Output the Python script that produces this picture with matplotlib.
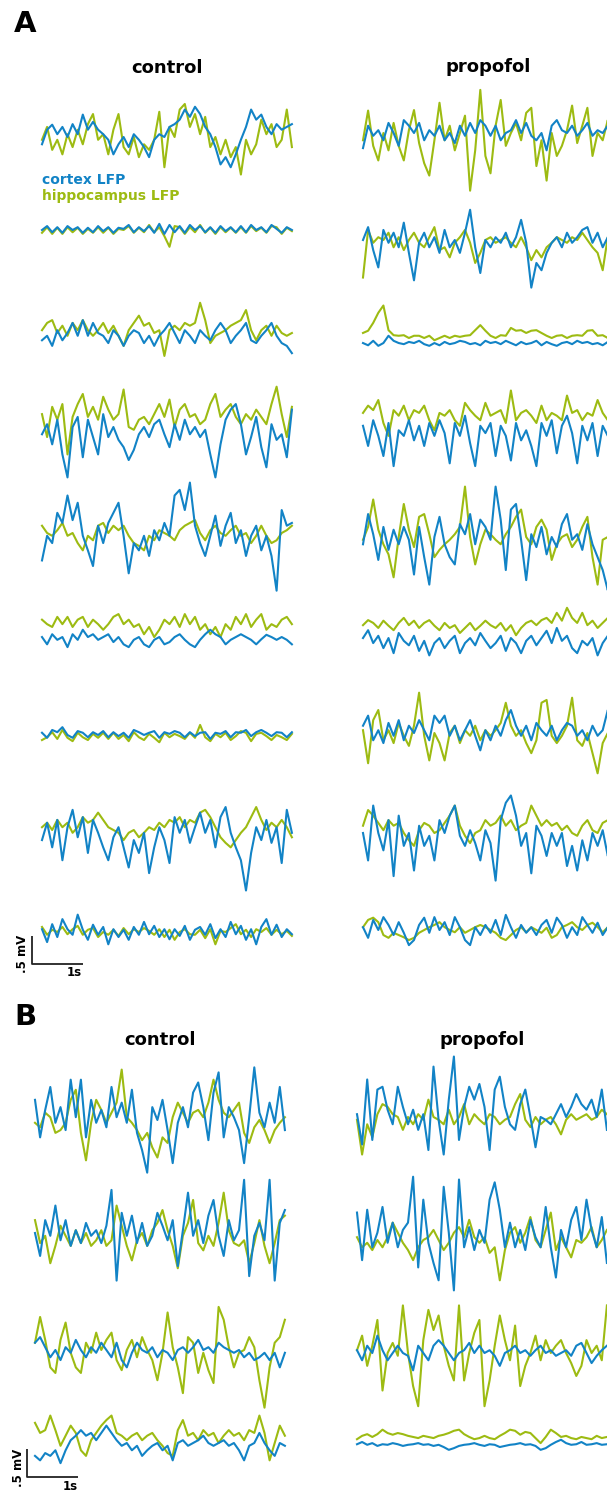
import numpy as np
import matplotlib
matplotlib.use("Agg")
import matplotlib.pyplot as plt

# ---------------- data (LFP traces, microvolts, sampled every 0.1 s) ----------------
DT = 0.1  # s
SCALE_V = 500   # uV scale bar
SCALE_T = 1.0   # s scale bar

# Panel A, control
A_ctrl_cortex_1 = [-130,130,220,50,180,0,230,50,400,130, 270,130,50,-50,-310,-130,0,-180,50,-50, -180,-360,-50,50,0,180,230,310,490,360, 540,410,180,50,-180,-490,-360,-540,-310,-50, 180,490,310,400,180,50,230,130,180,230]
A_ctrl_hippo_1 = [-50,180,-230,-50,-310,50,-180,130,-130,230, 410,-50,50,-310,130,410,-180,-310,0,-360, -130,-230,-50,450,-540,180,0,490,590,180, 410,50,360,-180,0,-310,-50,-360,-180,-670, -50,-310,-130,310,50,230,-180,-50,490,-180]
A_ctrl_cortex_2 = [0,70,-40,50,-50,70,0,50,-50,40, -40,70,-20,50,-50,40,20,90,-40,50, -20,70,-50,110,-70,90,-40,70,-50,90, 0,70,-40,50,-50,70,-20,50,-40,70, -40,90,0,50,-40,90,20,-50,50,0]
A_ctrl_hippo_2 = [-50,50,-70,40,-70,50,-40,40,-70,20, -50,50,-50,40,-70,20,0,70,-50,40, -40,90,-40,50,-110,-300,70,50,-70,50, -40,90,-50,40,-70,50,-40,40,-50,50, -50,70,-20,40,-50,70,50,-70,40,-20]
A_ctrl_cortex_3 = [-130,-50,-230,50,-130,0,180,-50,230,-50, 180,0,-50,-180,50,-50,-230,-50,50,0, -180,-50,-230,-50,50,180,0,-180,50,-50, -180,50,-50,-130,50,180,50,-180,-50,50, 180,-130,-180,-50,50,180,-50,-180,-230,-360]
A_ctrl_hippo_3 = [50,180,230,0,130,-50,180,50,230,50, -50,50,180,0,130,-50,-230,50,180,310, 130,180,0,50,-410,50,130,50,180,130, 180,540,230,-180,-50,0,50,130,180,230, 410,50,-130,50,130,-50,130,0,-50,0]
A_ctrl_cortex_4 = [-130,50,-310,130,-490,-900,0,180,-540,130, -180,-490,230,-180,0,-230,-360,-590,-410,-130, 0,-180,50,130,-130,-360,50,-230,130,-130, 0,-180,-50,-490,-900,-310,130,310,410,50, -490,-180,180,-360,-720,50,-230,-130,-540,310]
A_ctrl_hippo_4 = [230,-180,360,130,410,-490,180,410,590,180, 360,130,540,310,130,230,670,0,-50,130, 180,50,230,410,180,490,0,310,410,180, 230,50,130,410,590,180,310,410,180,50, 230,130,310,180,50,410,720,230,-180,360]
A_ctrl_cortex_5 = [-490,-50,-180,360,180,670,230,540,-50,-310, -590,130,-180,180,360,540,-50,-720,-180,-310, -50,-410,50,-130,180,-50,670,770,410,900, 130,-180,-410,-50,310,-230,130,360,-180,50, -410,-50,130,-310,-50,-410,-1030,410,130,180]
A_ctrl_hippo_5 = [130,0,-50,50,180,-50,0,-180,-310,-50, -130,130,180,0,130,50,130,-50,-180,-230, -310,-50,-130,50,0,-50,-130,50,130,180, 230,0,-130,50,130,0,-50,50,130,-50, 0,-180,-50,130,-50,-180,-130,0,50,130]
A_ctrl_cortex_6 = [-90,-220,-40,-140,-90,-270,-40,-140,40,-90, -40,-140,-90,-40,-180,-90,-220,-270,-140,-90, -220,-270,-140,-90,-220,-180,-90,-40,-140,-220, -270,-140,-40,40,-40,-90,-220,-140,-90,-40, -90,-140,-220,-130,-50,-90,-140,-90,-140,-220]
A_ctrl_hippo_6 = [220,140,90,270,140,270,90,220,270,90, 220,140,40,140,270,320,140,220,90,140, -40,90,-90,40,220,140,270,90,320,140, 270,40,140,-40,90,-90,140,40,270,140, 320,90,220,320,40,140,90,220,270,140]
A_ctrl_cortex_7 = [40,-50,90,50,140,0,-50,70,40,-40, 50,0,70,-40,50,-20,40,-50,90,50, 0,40,70,-50,50,20,70,40,-40,50, -20,40,50,-70,40,20,70,-40,50,40, 90,-20,50,90,40,-20,50,40,-40,50]
A_ctrl_hippo_7 = [-90,-40,50,-70,90,-50,-110,40,-40,-90, 20,-50,40,-70,40,-70,0,-110,50,-40, -90,20,-50,-130,40,-40,20,-20,-70,40, -50,180,-40,-110,20,-40,40,-90,-20,70, 40,-110,20,40,-20,-90,0,-40,-90,20]
A_ctrl_cortex_8 = [-180,130,-310,180,-540,50,360,-130,230,-410, 180,-50,-310,-540,-130,50,-310,-670,-180,-410, -50,-770,-310,50,-180,-590,230,-50,180,-230, 50,310,-50,180,-310,230,410,-50,-310,-540, -1080,-410,50,-180,180,-230,50,-590,360,-50]
A_ctrl_hippo_8 = [50,130,0,180,50,130,-50,50,230,130, 180,310,180,50,0,-50,-180,-50,0,-130, -50,50,0,130,50,180,130,230,50,180, 130,310,360,230,50,-130,-230,-310,-180,-50, 50,230,410,180,0,130,50,180,50,-130]
A_ctrl_cortex_9 = [50,-180,140,-90,230,50,-50,310,40,-140, 130,-50,90,-220,50,-90,40,-140,90,-50, 180,-40,110,-90,50,-130,50,-70,110,-140, 40,90,-50,140,-110,50,-90,180,-40,110, -140,50,-220,90,230,-50,130,-90,50,-40]
A_ctrl_hippo_9 = [90,-50,40,0,90,-40,50,110,-50,40, 70,-90,0,-50,40,-70,70,-40,50,0, 70,20,-50,50,-90,40,-140,0,50,-40, -50,40,-110,50,-220,20,0,70,140,-40, 40,-90,50,0,70,-50,40,-40,20,-70]

# Panel A, propofol
A_prop_cortex_1 = [-270,130,-50,50,-130,180,0,-230,230,130, 0,180,-130,50,-50,130,-130,0,-180,130, -50,180,0,230,130,-50,130,-130,0,50, 230,0,180,-50,-130,0,-310,130,230,50, 0,130,-50,50,180,-50,50,0,130,-50]
A_prop_hippo_1 = [-130,400,-230,-490,0,-310,180,-230,-490,50, 410,-180,-540,-760,-130,540,-130,130,-310,0, 310,-1030,-310,770,-410,-720,130,590,-230,0, 180,-130,360,450,-590,-130,-850,0,-410,-230, 50,490,-180,130,450,-410,0,-130,230,-810]
A_prop_cortex_2 = [0,230,-180,-490,180,-50,130,-130,310,-230, -720,-50,130,-130,50,-230,180,-130,0,-230, 130,540,-130,-590,0,-130,50,-50,130,-130, 50,360,-50,-850,-410,-540,-230,-50,50,-130, 130,-50,50,180,230,-50,130,-130,50,-50]
A_prop_hippo_2 = [-670,180,-50,50,0,130,-130,50,-180,0, 130,-50,-130,50,230,-180,-130,-310,-50,50, 180,-50,-410,-230,0,50,-50,0,50,-50, -130,50,-130,-360,-180,-310,-130,-50,50,0, -50,50,0,130,0,-130,-230,-540,50,180]
A_prop_cortex_3 = [-90,-130,-50,-140,-90,40,-50,-90,-110,-70, -90,-50,-110,-140,-90,-130,-70,-110,-90,-50, -70,-110,-90,-130,-50,-90,-70,-110,-50,-90, -130,-70,-110,-90,-50,-130,-70,-110,-140,-90, -70,-110,-50,-90,-70,-110,-90,-130,-70,-140]
A_prop_hippo_3 = [90,130,270,450,580,140,50,40,50,0, 40,40,0,40,-40,0,40,0,40,20, 40,50,140,230,130,40,0,50,40,180, 130,140,90,130,140,90,40,0,40,50, 0,40,50,40,130,140,40,50,0,40]
A_prop_cortex_4 = [-50,-410,50,-230,-590,0,-770,-130,-230,50, -310,-50,-410,0,-230,50,-180,-720,0,-230, 130,-360,-770,-50,-180,0,-590,-50,-230,-670, 0,-310,-130,-410,-770,0,-230,50,-540,-50, 130,-180,-720,-50,-310,0,-590,-50,-230,-50]
A_prop_hippo_4 = [180,310,230,410,0,-230,230,130,310,50, 230,180,310,50,-130,180,130,230,50,-50, 360,230,130,50,360,130,180,230,0,580, 50,180,230,130,0,310,50,180,130,50, 490,180,230,50,180,130,410,180,50,130]
A_prop_cortex_5 = [-130,410,50,-410,180,-230,130,-130,180,-50, -670,180,-360,-850,0,360,-130,-360,-490,230, 50,410,-130,310,180,-50,900,310,-590,490, 590,-50,-770,50,-180,180,-310,0,-180,230, 410,-50,50,-230,230,-130,-360,-590,-950,-130]
A_prop_hippo_5 = [-50,180,670,130,-130,-310,-720,0,590,130, -180,360,410,50,-360,-230,-130,-50,50,180, 900,0,-490,-130,130,50,-50,-130,50,180, 360,490,0,-130,180,310,130,-410,-130,0, 50,-180,-50,180,360,-360,-850,-50,0,50]
A_prop_cortex_6 = [-90,50,-180,-50,-270,-90,-360,0,-140,-220, -50,-320,-140,-400,-180,-90,-270,-140,-50,-360, -180,-90,-220,0,-140,-270,-180,-50,-320,-90, -180,-360,-140,-50,-220,-90,40,-180,90,-140, -50,-270,-360,-140,-220,-90,-400,-180,-50,-140]
A_prop_hippo_6 = [140,230,180,90,220,130,50,180,270,140, 220,90,180,230,130,50,180,90,140,0, 90,180,50,130,220,140,90,180,40,140, -40,90,180,220,140,230,270,180,360,220, 450,270,180,360,140,220,90,180,270,140]
A_prop_cortex_7 = [130,310,-130,50,-180,180,-50,230,-130,130, 0,230,50,-130,310,180,310,-50,130,-130, 50,230,-50,-310,50,-130,130,-50,230,410, 130,-50,130,-130,180,50,-50,130,-130,50, 180,130,-50,50,-130,130,-50,50,410,130]
A_prop_hippo_7 = [50,-540,230,410,-130,50,-180,180,-50,-230, 130,720,-50,-490,0,-180,-490,0,130,-180, 50,-50,130,-130,50,-50,50,180,540,130, -50,50,-180,-360,-130,540,590,-50,-180,-50, 130,630,-130,-230,0,-360,-720,-180,0,-130]
A_prop_cortex_8 = [0,-490,490,0,-310,230,-770,310,-230,0, -670,130,-230,-50,-490,230,0,310,490,-50, -230,50,-180,-490,50,-180,-850,230,540,670, 310,-230,0,-720,130,-50,-410,0,-230,0, -590,-230,-670,-130,-490,0,-230,50,-410,-50]
A_prop_hippo_8 = [130,410,310,180,50,230,130,180,0,-130, -230,50,180,130,0,50,180,310,490,130, -50,-180,0,50,230,130,180,310,130,230, 50,130,180,490,310,130,230,130,180,50, 130,0,-50,130,230,50,0,180,230,130]
A_prop_cortex_9 = [50,-140,180,0,230,90,-90,140,-50,-270, -180,90,220,-50,230,0,140,-90,230,50, -180,-270,50,-90,90,-50,180,-90,270,50, -140,90,-50,50,-90,90,180,-50,220,90, -140,50,-90,230,90,-50,130,-90,50,0]
A_prop_hippo_9 = [50,180,220,140,-90,-140,-50,-90,-130,-180, -140,-50,0,50,90,140,50,0,-40,50, -50,0,50,90,50,0,-50,-140,-180,-90, 0,50,-40,50,0,-50,40,-140,-90,50, 90,140,50,0,90,130,50,-40,50,90]

# Panel B, control
B_ctrl_cortex_1 = [360,-310,180,590,-50,230,-180,720,50,720, -310,360,-50,180,-130,590,50,310,-50,540, -230,-540,-940,230,0,360,-180,-770,-50,230, -130,490,670,230,-360,490,850,-310,230,50, -180,-770,50,940,130,-130,310,-50,590,-180]
B_ctrl_hippo_1 = [-50,-130,130,50,-230,-180,-50,360,540,-230, -720,-50,360,180,-50,130,310,900,50,-50, -180,-360,-230,-490,-670,-310,-410,50,310,130, -50,130,180,50,310,720,360,130,50,180, 310,-230,-410,-130,0,-180,-410,-180,-50,50]
B_ctrl_cortex_2 = [0,-410,230,-50,490,-130,230,-230,50,-180, 180,-50,50,-180,130,770,-850,360,-50,310, -180,180,-230,-50,360,130,-130,230,-590,50, 720,-50,230,-180,310,590,-50,-410,230,-130, 50,950,-770,-50,180,-130,950,-850,180,410]
B_ctrl_hippo_2 = [230,-180,-50,-540,-230,130,-50,-230,50,-180, 0,-230,-130,50,-230,-130,490,130,-230,-490, -130,0,-230,50,180,410,50,-230,-630,-50, 180,590,-180,-310,-50,-230,180,720,50,-180, -230,-130,-540,-180,230,-230,-540,-180,230,310]
B_ctrl_cortex_3 = [130,230,50,-130,0,-180,50,-50,180,0, -130,50,-50,130,0,-130,130,-180,-310,-50, 130,0,-50,50,-130,0,-50,-180,0,50, -50,50,180,0,50,-50,130,50,0,-50, 0,-130,-50,-180,-130,-50,-180,-50,-310,-50]
B_ctrl_hippo_3 = [130,590,180,-310,-410,180,490,-50,-310,-410, 130,-50,310,0,180,310,-180,-360,0,180, -130,230,0,-180,-540,-50,670,50,-310,-770, 230,130,-410,-50,-360,-590,770,540,50,-310, -50,0,230,50,-540,-1030,-310,130,230,540]
B_ctrl_cortex_4 = [-230,-310,-180,-230,-130,-360,-130,50,130,230, 130,180,50,180,310,180,50,-50,0,-130, -50,-230,-130,-50,0,-130,-50,-310,0,50, -50,0,50,130,0,-50,0,50,-50,0, -130,-310,-50,0,180,0,-130,-230,0,-50]
B_ctrl_hippo_4 = [360,180,230,490,230,-50,130,310,180,-130, -230,50,180,310,410,490,180,130,50,130, 180,50,130,180,50,-50,-180,-230,230,410, 130,180,50,230,130,180,0,130,230,130, 180,50,230,180,490,180,-310,0,310,130]

# Panel B, propofol
B_prop_cortex_1 = [50,-490,670,-410,490,540,130,-130,540,180, -130,130,-230,50,-590,900,-50,-670,310,1080, -410,180,540,310,590,180,-590,490,720,180, -130,-230,230,490,0,-540,0,-50,-130,50, 230,0,180,410,230,130,310,0,490,-230]
B_prop_hippo_1 = [-50,-670,-130,-360,50,230,180,50,0,-230, 0,-130,50,-50,310,0,-50,-130,130,-130, 0,230,-130,50,-50,-130,50,0,-130,-50, 0,230,410,-50,-180,0,-130,-50,0,-130, -310,-50,50,-50,0,50,-50,0,130,50]
B_prop_cortex_2 = [490,-360,540,-130,130,590,-50,310,-130,180, 310,1130,-490,720,-50,-410,-720,950,130,-900, 1080,-130,230,-180,180,-50,720,1030,540,-130, 310,-130,180,-180,360,50,-130,590,-130,-670, 180,-130,360,590,0,720,180,-130,410,-410]
B_prop_hippo_2 = [50,-130,-50,-180,0,-130,50,310,130,-50, -180,-360,-130,0,50,180,0,-180,-50,130, 230,50,360,50,-50,50,-230,-130,-720,-180, 130,230,-50,130,410,0,-130,180,490,-180, 50,-130,-310,0,-50,50,230,-130,0,180]
B_prop_cortex_3 = [50,-130,130,0,310,50,-130,0,130,0, -50,-310,130,0,-130,130,230,130,0,-130, 0,50,180,0,130,0,50,-50,-230,0, 50,130,0,50,-50,50,130,0,50,-50, 0,50,-50,130,180,0,-180,-50,50,130]
B_prop_hippo_3 = [50,310,-230,130,590,-670,0,180,-50,850, 0,-590,-950,230,770,410,670,130,-230,-490, 850,-490,0,360,590,-950,-490,130,670,230, -130,490,-590,-230,0,310,-130,230,0,130, 230,0,-180,-410,-230,230,0,130,-130,850]
B_prop_cortex_4 = [-40,0,-50,-20,-70,-40,-50,-20,-40,-70, -50,-40,-20,-50,-40,-70,-50,-90,-140,-110, -70,-50,-40,-20,-50,-70,-40,-50,-90,-70, -50,-40,-20,-50,-40,-70,-140,-110,-50,0, 40,-20,-50,-40,0,-50,-40,-20,-50,-40]
B_prop_hippo_4 = [50,110,140,90,140,220,160,130,160,140, 110,90,70,110,90,70,110,130,160,200, 220,140,90,50,70,110,70,50,110,160, 220,200,130,180,160,70,-20,90,220,160, 90,110,70,50,90,70,50,110,70,90]

A_control = [(A_ctrl_cortex_1, A_ctrl_hippo_1), (A_ctrl_cortex_2, A_ctrl_hippo_2),
             (A_ctrl_cortex_3, A_ctrl_hippo_3), (A_ctrl_cortex_4, A_ctrl_hippo_4),
             (A_ctrl_cortex_5, A_ctrl_hippo_5), (A_ctrl_cortex_6, A_ctrl_hippo_6),
             (A_ctrl_cortex_7, A_ctrl_hippo_7), (A_ctrl_cortex_8, A_ctrl_hippo_8),
             (A_ctrl_cortex_9, A_ctrl_hippo_9)]
A_propofol = [(A_prop_cortex_1, A_prop_hippo_1), (A_prop_cortex_2, A_prop_hippo_2),
              (A_prop_cortex_3, A_prop_hippo_3), (A_prop_cortex_4, A_prop_hippo_4),
              (A_prop_cortex_5, A_prop_hippo_5), (A_prop_cortex_6, A_prop_hippo_6),
              (A_prop_cortex_7, A_prop_hippo_7), (A_prop_cortex_8, A_prop_hippo_8),
              (A_prop_cortex_9, A_prop_hippo_9)]
B_control = [(B_ctrl_cortex_1, B_ctrl_hippo_1), (B_ctrl_cortex_2, B_ctrl_hippo_2),
             (B_ctrl_cortex_3, B_ctrl_hippo_3), (B_ctrl_cortex_4, B_ctrl_hippo_4)]
B_propofol = [(B_prop_cortex_1, B_prop_hippo_1), (B_prop_cortex_2, B_prop_hippo_2),
              (B_prop_cortex_3, B_prop_hippo_3), (B_prop_cortex_4, B_prop_hippo_4)]

conditions = ["control", "propofol"]
legend_labels = ["cortex LFP", "hippocampus LFP"]

# ---------------- layout / style ----------------
W, H = 607, 1495
BLUE = "#1283c6"
GREEN = "#9dbb12"
LW = 1.5
PX_PER_UV = 0.056      # 0.5 mV -> 28 px
PX_PER_S = 51.0
T_SPAN = 4.9
HALF_H = 90            # half height of each trace axes in px

fig = plt.figure(figsize=(W / 100, H / 100), dpi=100)
fig.patch.set_facecolor("white")


def px_axes(x, y_top, w, h):
    return fig.add_axes([x / W, 1 - (y_top + h) / H, w / W, h / H])


def ftext(x, y, s, **kw):
    fig.text(x / W, 1 - y / H, s, **kw)


def draw_trace(x0, cy, pair):
    cortex, hippo = pair
    ax = px_axes(x0, cy - HALF_H, T_SPAN * PX_PER_S, 2 * HALF_H)
    ax.set_xlim(0, T_SPAN)
    lim = HALF_H / PX_PER_UV
    ax.set_ylim(-lim, lim)
    ax.axis("off")
    t_h = np.arange(len(hippo)) * DT
    t_c = np.arange(len(cortex)) * DT
    ax.plot(t_h, hippo, color=GREEN, lw=LW, clip_on=False)
    ax.plot(t_c, cortex, color=BLUE, lw=LW, clip_on=False)


def draw_scalebar(x, y_bottom, lab_mv_xy, lab_s_xy):
    h = SCALE_V * PX_PER_UV
    w = SCALE_T * PX_PER_S
    ax = px_axes(x, y_bottom - h, w, h)
    ax.set_xlim(0, SCALE_T)
    ax.set_ylim(0, SCALE_V)
    ax.axis("off")
    ax.plot([0, 0, SCALE_T], [SCALE_V, 0, 0], color="#222222", lw=1.3,
            clip_on=False, solid_capstyle="butt")
    ftext(*lab_mv_xy, ".5 mV", rotation=90, ha="center", va="center",
          fontsize=8.5, fontweight="bold")
    ftext(*lab_s_xy, "1s", ha="center", va="center", fontsize=8.5,
          fontweight="bold")


# Panel A
A_left_x, A_right_x = 42, 363
A_left_cy = [137, 230, 333, 427, 533, 632, 735, 830, 932]
A_right_cy = [133, 240, 338, 423, 537, 633, 733, 833, 930]
for cy, pair in zip(A_left_cy, A_control):
    draw_trace(A_left_x, cy, pair)
for cy, pair in zip(A_right_cy, A_propofol):
    draw_trace(A_right_x, cy, pair)

# Panel B
B_left_x, B_right_x = 35, 357
B_left_cy = [1120, 1233, 1350, 1443]
B_right_cy = [1117, 1240, 1353, 1442]
for cy, pair in zip(B_left_cy, B_control):
    draw_trace(B_left_x, cy, pair)
for cy, pair in zip(B_right_cy, B_propofol):
    draw_trace(B_right_x, cy, pair)

# Texts
ftext(25, 24, "A", fontsize=21, fontweight="bold", ha="center", va="center")
ftext(25, 1017, "B", fontsize=21, fontweight="bold", ha="center", va="center")
ftext(167, 68, conditions[0], fontsize=13, fontweight="bold", ha="center", va="center")
ftext(488, 67, conditions[1], fontsize=13, fontweight="bold", ha="center", va="center")
ftext(160, 1040, conditions[0], fontsize=13, fontweight="bold", ha="center", va="center")
ftext(482, 1040, conditions[1], fontsize=13, fontweight="bold", ha="center", va="center")
ftext(42, 180, legend_labels[0], color=BLUE, fontsize=10, fontweight="bold",
      ha="left", va="center")
ftext(42, 196, legend_labels[1], color=GREEN, fontsize=10, fontweight="bold",
      ha="left", va="center")

# Scale bars
draw_scalebar(32, 964, (23, 954), (74, 973))
draw_scalebar(27, 1477, (18, 1468), (70, 1487))

fig.savefig("out.png", dpi=100, facecolor="white")
